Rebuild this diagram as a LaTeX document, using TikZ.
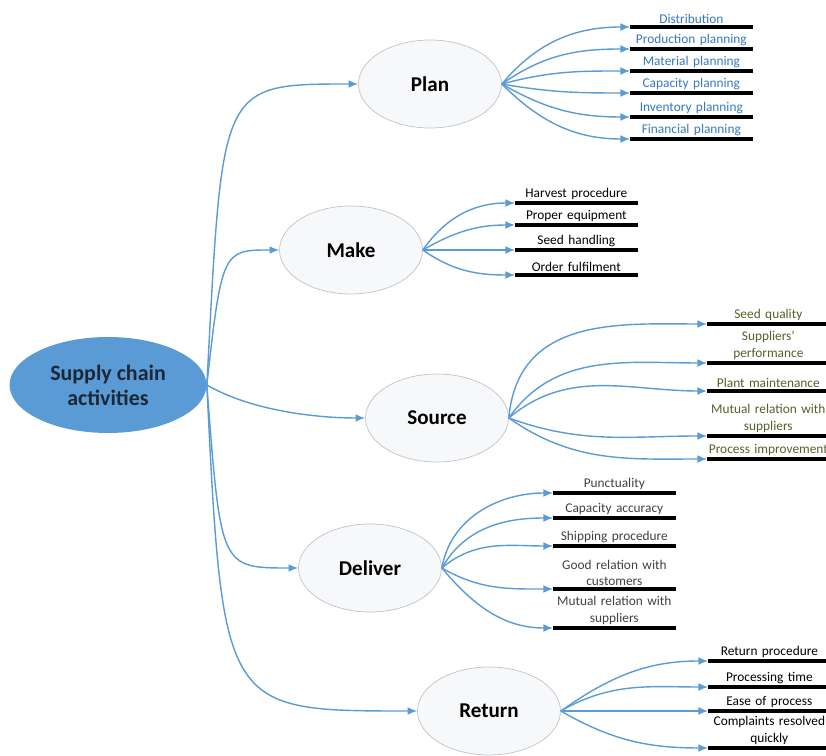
\documentclass[tikz,border=0pt]{standalone}
\usepackage{fontspec}
\setmainfont{Carlito}
\usetikzlibrary{shapes.geometric,arrows.meta}
\definecolor{rootblue}{HTML}{5B9BD5}
\definecolor{linkblue}{HTML}{5B9BD5}
\definecolor{navytext}{HTML}{1C2838}
\definecolor{plantext}{HTML}{3479BD}
\definecolor{sourcetext}{HTML}{4F6228}
\definecolor{delivertext}{HTML}{404040}
\definecolor{ellfill}{HTML}{F7F8FA}
\definecolor{ellline}{HTML}{BFC3C8}
\begin{document}
\begin{tikzpicture}[x=.02cm,y=-.02cm]
        \tikzstyle{root} = [ellipse, fill=rootblue, text=navytext, align=center, font=\fontsize{12.5}{14.2}\selectfont\bfseries, minimum width=3.94cm, minimum height=1.92cm]
        \tikzstyle{phase} = [ellipse, draw=ellline, fill=ellfill, text=black, font=\fontsize{12}{14}\selectfont\bfseries, minimum width=2.86cm, minimum height=1.76cm]
        \tikzstyle{leaf} = [anchor=south west, inner xsep=0pt, inner ysep=1.5pt, text width=2.44cm, align=center, font=\fontsize{7.6}{9.6}\selectfont, append after command={(\tikzlastnode.south west) edge[draw=black, line width=2.2pt] (\tikzlastnode.south east)}]
        \tikzstyle{line} = [-{Latex[length=5.5pt,width=4.5pt]}, draw=linkblue, line width=.8pt]
        \useasboundingbox (0,0) rectangle (826,756);
        \clip (0,0) rectangle (826,756);
        \node[root] (root) at (108,385) {Supply chain\\activities};
        \node[phase] (plan) at (430,84) {Plan};
        \node[phase] (make) at (351,250) {Make};
        \node[phase] (source) at (437,418) {Source};
        \node[phase] (deliver) at (370,568) {Deliver};
        \node[phase] (return) at (489,711) {Return};
        % plan
        \node[leaf,text=plantext] (dist) at (630,27) {Distribution};
        \node[leaf,text=plantext] (prod) at (630,49) {Production planning};
        \node[leaf,text=plantext] (mat) at (630,71) {Material planning};
        \node[leaf,text=plantext] (cap) at (630,93) {Capacity planning};
        \node[leaf,text=plantext] (inv) at (630,117) {Inventory planning};
        \node[leaf,text=plantext] (fin) at (630,139) {Financial planning};
        % make
        \node[leaf] (harv) at (515,203) {Harvest procedure};
        \node[leaf] (equip) at (515,225) {Proper equipment};
        \node[leaf] (seedh) at (515,250) {Seed handling};
        \node[leaf] (order) at (515,275) {Order fulfilment};
        % source
        \node[leaf,text=sourcetext] (seedq) at (707,324) {Seed quality};
        \node[leaf,text=sourcetext] (supp) at (707,363) {Suppliers'\\performance};
        \node[leaf,text=sourcetext] (plant) at (707,391) {Plant maintenance};
        \node[leaf,text=sourcetext] (mutual) at (707,436) {Mutual relation with\\suppliers};
        \node[leaf,text=sourcetext] (improve) at (707,459) {Process improvement};
        % deliver
        \node[leaf,text=delivertext] (punct) at (553,493) {Punctuality};
        \node[leaf,text=delivertext] (capacc) at (553,518) {Capacity accuracy};
        \node[leaf,text=delivertext] (ship) at (553,546) {Shipping procedure};
        \node[leaf,text=delivertext] (cust) at (553,589) {Good relation with\\customers};
        \node[leaf,text=delivertext] (relsupp) at (553,628) {Mutual relation with\\suppliers};
        % return
        \node[leaf] (retproc) at (708,661) {Return procedure};
        \node[leaf] (time) at (708,687) {Processing time};
        \node[leaf] (ease) at (708,711) {Ease of process};
        \node[leaf] (compl) at (708,748) {Complaints resolved\\quickly};
        \draw[line] (root.east) .. controls +(16,-300) and +(-140,0) .. (plan.west);
        \draw[line] (root.east) .. controls +(15,-135) and +(-56,0) .. (make.west);
        \draw[line] (root.east) to[out=-30,in=180,looseness=.8] (source.west);
        \draw[line] (root.east) .. controls +(14,183) and +(-78,0) .. (deliver.west);
        \draw[line] (root.east) .. controls +(16,326) and +(-194,0) .. (return.west);
        \draw[line] (plan.east) to[out=50,in=180] (dist.south west);
        \draw[line] (plan.east) to[out=35,in=180] (prod.south west);
        \draw[line] (plan.east) to[out=15,in=180] (mat.south west);
        \draw[line] (plan.east) to[out=-10,in=180] (cap.south west);
        \draw[line] (plan.east) to[out=-30,in=180] (inv.south west);
        \draw[line] (plan.east) to[out=-45,in=180] (fin.south west);
        \draw[line] (make.east) to[out=55,in=180] (harv.south west);
        \draw[line] (make.east) to[out=30,in=180] (equip.south west);
        \draw[line] (make.east) to[out=0,in=180] (seedh.south west);
        \draw[line] (make.east) to[out=-35,in=180] (order.south west);
        \draw[line] (source.east) to[out=85,in=180,out looseness=1.2] (seedq.south west);
        \draw[line] (source.east) to[out=55,in=180] (supp.south west);
        \draw[line] (source.east) to[out=40,in=180] (plant.south west);
        \draw[line] (source.east) to[out=-20,in=180] (mutual.south west);
        \draw[line] (source.east) to[out=-35,in=180] (improve.south west);
        \draw[line] (deliver.east) to[out=80,in=180] (punct.south west);
        \draw[line] (deliver.east) to[out=60,in=180] (capacc.south west);
        \draw[line] (deliver.east) to[out=40,in=180] (ship.south west);
        \draw[line] (deliver.east) to[out=-30,in=180] (cust.south west);
        \draw[line] (deliver.east) to[out=-50,in=180] (relsupp.south west);
        \draw[line] (return.east) to[out=35,in=180] (retproc.south west);
        \draw[line] (return.east) to[out=30,in=180] (time.south west);
        \draw[line] (return.east) to[out=0,in=180] (ease.south west);
        \draw[line] (return.east) to[out=-30,in=180] (compl.south west);
    \end{tikzpicture}
\end{document}
